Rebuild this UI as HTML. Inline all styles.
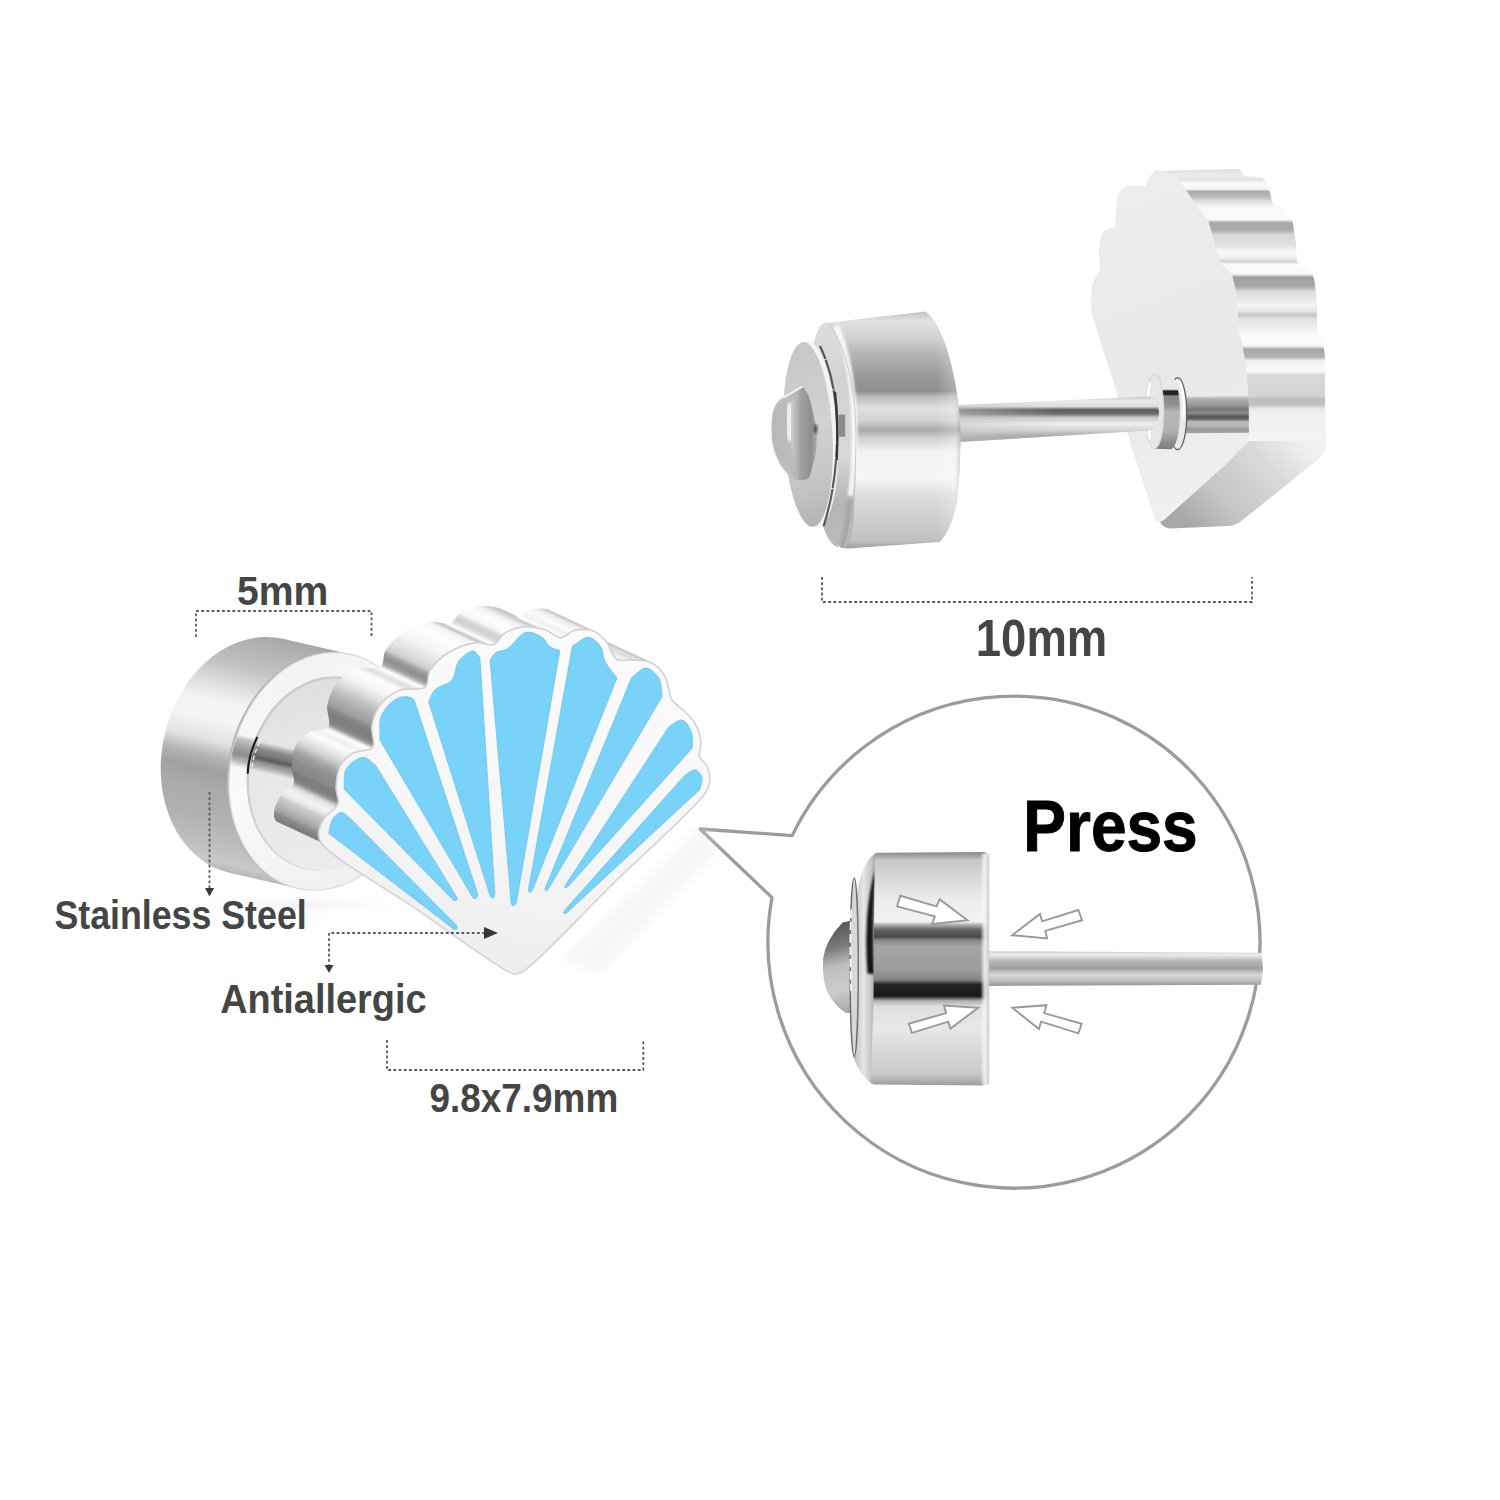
<!DOCTYPE html>
<html><head><meta charset="utf-8"><title>Shell earring</title>
<style>
html,body{margin:0;padding:0;background:#fff;}
body{width:1500px;height:1500px;overflow:hidden;font-family:"Liberation Sans",sans-serif;}
svg{display:block;}
text{font-family:"Liberation Sans",sans-serif;}
</style></head><body>
<svg width="1500" height="1500" viewBox="0 0 1500 1500">
<rect width="1500" height="1500" fill="#ffffff"/>
<!-- callout bubble -->
<path d="M792.2,835.6 L700,829 L772,897.6 A246,246 0 1 0 792.2,835.6 Z" transform="" fill="#ffffff" stroke="#9c9c9c" stroke-width="3.3" stroke-linejoin="round"/>
<text x="1023.3" y="850.6" font-size="72.5" font-weight="bold" fill="#000" stroke="#000" stroke-width="1" textLength="174.4" lengthAdjust="spacingAndGlyphs">Press</text>

<!-- callout cylinder: zoom coords origin (800,820) scale 1/4.6875 -->
<defs>
  <filter id="ccBl" x="-40%" y="-10%" width="180%" height="120%"><feGaussianBlur stdDeviation="5"/></filter>
  <linearGradient id="ccBody" x1="0" y1="155" x2="0" y2="1245" gradientUnits="userSpaceOnUse">
    <stop offset="0" stop-color="#8e8e8e"/>
    <stop offset="0.03" stop-color="#c6c6c6"/>
    <stop offset="0.10" stop-color="#d6d6d6"/>
    <stop offset="0.20" stop-color="#ececec"/>
    <stop offset="0.295" stop-color="#f2f2f2"/>
    <stop offset="0.31" stop-color="#a8a8a8"/>
    <stop offset="0.33" stop-color="#646464"/>
    <stop offset="0.36" stop-color="#484848"/>
    <stop offset="0.375" stop-color="#868686"/>
    <stop offset="0.40" stop-color="#a4a4a4"/>
    <stop offset="0.50" stop-color="#9c9c9c"/>
    <stop offset="0.545" stop-color="#848484"/>
    <stop offset="0.565" stop-color="#242424"/>
    <stop offset="0.615" stop-color="#181818"/>
    <stop offset="0.635" stop-color="#aeaeae"/>
    <stop offset="0.66" stop-color="#dedede"/>
    <stop offset="0.75" stop-color="#e8e8e8"/>
    <stop offset="0.85" stop-color="#d8d8d8"/>
    <stop offset="0.95" stop-color="#c8c8c8"/>
    <stop offset="1" stop-color="#9c9c9c"/>
  </linearGradient>
  <linearGradient id="ccBevel" x1="240" y1="0" x2="355" y2="0" gradientUnits="userSpaceOnUse">
    <stop offset="0" stop-color="#9a9a9a"/>
    <stop offset="0.2" stop-color="#c8c8c8"/>
    <stop offset="0.5" stop-color="#e6e6e6"/>
    <stop offset="0.8" stop-color="#c6c6c6"/>
    <stop offset="1" stop-color="#a2a2a2"/>
  </linearGradient>
  <linearGradient id="ccDome" x1="120" y1="470" x2="230" y2="900" gradientUnits="userSpaceOnUse">
    <stop offset="0" stop-color="#4e4e4e"/>
    <stop offset="0.3" stop-color="#7a7a7a"/>
    <stop offset="0.5" stop-color="#bebebe"/>
    <stop offset="0.75" stop-color="#cccccc"/>
    <stop offset="1" stop-color="#a8a8a8"/>
  </linearGradient>
  <linearGradient id="ccRod" x1="0" y1="612" x2="0" y2="780" gradientUnits="userSpaceOnUse">
    <stop offset="0" stop-color="#c8c8c8"/>
    <stop offset="0.12" stop-color="#ededed"/>
    <stop offset="0.3" stop-color="#b4b4b4"/>
    <stop offset="0.5" stop-color="#a0a0a0"/>
    <stop offset="0.68" stop-color="#d8d8d8"/>
    <stop offset="0.85" stop-color="#bdbdbd"/>
    <stop offset="1" stop-color="#8f8f8f"/>
  </linearGradient>
  <linearGradient id="ccRim" x1="845" y1="0" x2="888" y2="0" gradientUnits="userSpaceOnUse">
    <stop offset="0" stop-color="#ffffff" stop-opacity="0"/>
    <stop offset="0.5" stop-color="#f4f4f4" stop-opacity="0.9"/>
    <stop offset="1" stop-color="#c9c9c9" stop-opacity="1"/>
  </linearGradient>
</defs>
<g transform="translate(800,820) scale(0.213333)">
  <!-- rod -->
  <path d="M870,615 L2160,622 Q2180,700 2160,772 L870,778 Z" fill="url(#ccRod)"/>
  <!-- dome -->
  <path d="M250,470 L200,480 Q120,560 108,650 Q104,740 125,800 Q160,870 215,905 L250,905 Z" fill="url(#ccDome)"/>
  <!-- bevel -->
  <path d="M355,155 Q300,190 275,300 Q240,500 240,700 Q238,950 250,1110 Q280,1200 335,1235 L360,1240 L360,155 Z" fill="url(#ccBevel)"/>
  <path d="M353,232 Q296,420 316,720 L347,722 Q334,450 356,232 Z" fill="#181818" filter="url(#ccBl)"/>
  <ellipse cx="254" cy="690" rx="19" ry="418" fill="#d8d8d8" stroke="#6a6a6a" stroke-width="6"/>
  <path d="M240,420 Q232,600 240,800" fill="none" stroke="#ffffff" stroke-width="8" stroke-dasharray="40 18"/>
  <!-- body -->
  <path d="M350,160 Q352,153 370,153 L860,150 Q878,152 884,175 L886,1215 Q880,1240 850,1245 L345,1240 Q330,1238 332,1225 L345,830 Z" fill="url(#ccBody)"/>
  <rect x="845" y="158" width="42" height="1082" fill="url(#ccRim)"/>
  <!-- arrows -->
  <g fill="#ffffff" stroke="#9a9a9a" stroke-width="9" stroke-linejoin="miter">
    <path d="M470,355 L640,405 L655,372 L785,470 L620,487 L632,452 L455,405 Z"/>
    <path d="M1305,422 L1322,470 L1150,520 L1158,555 L995,540 L1125,440 L1135,475 Z"/>
    <path d="M510,955 L685,905 L675,870 L835,880 L705,978 L695,945 L525,998 Z"/>
    <path d="M995,880 L1155,868 L1145,905 L1320,955 L1305,1000 L1130,945 L1120,980 Z"/>
  </g>
</g>

<!-- top-right earring -->
<defs>
  <filter id="bl8" x="-30%" y="-30%" width="160%" height="160%"><feGaussianBlur stdDeviation="8"/></filter>
  <filter id="bl4" x="-30%" y="-30%" width="160%" height="160%"><feGaussianBlur stdDeviation="4"/></filter>
  <linearGradient id="trSide" x1="0" y1="95" x2="0" y2="1460" gradientUnits="userSpaceOnUse">
    <stop offset="0.000" stop-color="#dcdcdc"/>
    <stop offset="0.020" stop-color="#ececec"/>
    <stop offset="0.040" stop-color="#e2e2e2"/>
    <stop offset="0.052" stop-color="#fafafa"/>
    <stop offset="0.074" stop-color="#f6f6f6"/>
    <stop offset="0.082" stop-color="#aaaaaa"/>
    <stop offset="0.100" stop-color="#b8b8b8"/>
    <stop offset="0.118" stop-color="#dedede"/>
    <stop offset="0.140" stop-color="#f8f8f8"/>
    <stop offset="0.185" stop-color="#fbfbfb"/>
    <stop offset="0.197" stop-color="#a6a6a6"/>
    <stop offset="0.225" stop-color="#acacac"/>
    <stop offset="0.240" stop-color="#d6d6d6"/>
    <stop offset="0.280" stop-color="#e2e2e2"/>
    <stop offset="0.300" stop-color="#f6f6f6"/>
    <stop offset="0.325" stop-color="#f2f2f2"/>
    <stop offset="0.338" stop-color="#d0d0d0"/>
    <stop offset="0.350" stop-color="#fafafa"/>
    <stop offset="0.385" stop-color="#f8f8f8"/>
    <stop offset="0.396" stop-color="#9e9e9e"/>
    <stop offset="0.430" stop-color="#a8a8a8"/>
    <stop offset="0.448" stop-color="#dadada"/>
    <stop offset="0.500" stop-color="#f4f4f4"/>
    <stop offset="0.520" stop-color="#e6e6e6"/>
    <stop offset="0.535" stop-color="#c6c6c6"/>
    <stop offset="0.550" stop-color="#e4e4e4"/>
    <stop offset="0.595" stop-color="#f2f2f2"/>
    <stop offset="0.610" stop-color="#fbfbfb"/>
    <stop offset="0.648" stop-color="#f8f8f8"/>
    <stop offset="0.660" stop-color="#a8a8a8"/>
    <stop offset="0.688" stop-color="#b0b0b0"/>
    <stop offset="0.703" stop-color="#f2f2f2"/>
    <stop offset="0.742" stop-color="#fafafa"/>
    <stop offset="0.755" stop-color="#d8d8d8"/>
    <stop offset="0.830" stop-color="#d2d2d2"/>
    <stop offset="0.845" stop-color="#bcbcbc"/>
    <stop offset="0.865" stop-color="#c4c4c4"/>
    <stop offset="0.880" stop-color="#eeeeee"/>
    <stop offset="1.000" stop-color="#f4f4f4"/>
  </linearGradient>
  <linearGradient id="trBottom" x1="1300" y1="1440" x2="760" y2="1900" gradientUnits="userSpaceOnUse">
    <stop offset="0" stop-color="#f0f0f0"/>
    <stop offset="0.3" stop-color="#d9d9d9"/>
    <stop offset="0.7" stop-color="#c4c4c4"/>
    <stop offset="1" stop-color="#a8a8a8"/>
  </linearGradient>
  <linearGradient id="trFace" x1="300" y1="200" x2="900" y2="1800" gradientUnits="userSpaceOnUse">
    <stop offset="0" stop-color="#ededed"/>
    <stop offset="0.6" stop-color="#e9e9e9"/>
    <stop offset="1" stop-color="#f1f1f1"/>
  </linearGradient>
  <linearGradient id="trRefl" x1="0" y1="1230" x2="0" y2="1416" gradientUnits="userSpaceOnUse">
    <stop offset="0" stop-color="#dcdcdc"/>
    <stop offset="0.08" stop-color="#b0b0b0"/>
    <stop offset="0.22" stop-color="#9c9c9c"/>
    <stop offset="0.36" stop-color="#787878"/>
    <stop offset="0.46" stop-color="#8a8a8a"/>
    <stop offset="0.54" stop-color="#5a5a5a"/>
    <stop offset="0.62" stop-color="#606060"/>
    <stop offset="0.68" stop-color="#b4b4b4"/>
    <stop offset="0.8" stop-color="#b8b8b8"/>
    <stop offset="0.9" stop-color="#969696"/>
    <stop offset="1" stop-color="#a6a6a6"/>
  </linearGradient>
  <linearGradient id="trRod" x1="0" y1="0" x2="0" y2="1">
    <stop offset="0" stop-color="#c4c4c4"/>
    <stop offset="0.10" stop-color="#ececec"/>
    <stop offset="0.22" stop-color="#dcdcdc"/>
    <stop offset="0.29" stop-color="#5a5a5a"/>
    <stop offset="0.38" stop-color="#6e6e6e"/>
    <stop offset="0.46" stop-color="#c6c6c6"/>
    <stop offset="0.60" stop-color="#eeeeee"/>
    <stop offset="0.74" stop-color="#d4d4d4"/>
    <stop offset="0.86" stop-color="#a8a8a8"/>
    <stop offset="1" stop-color="#8e8e8e"/>
  </linearGradient>
  <linearGradient id="trRodFade" x1="990" y1="0" x2="1500" y2="0" gradientUnits="userSpaceOnUse">
    <stop offset="0" stop-color="#c8c8c8" stop-opacity="0.55"/>
    <stop offset="1" stop-color="#c8c8c8" stop-opacity="0"/>
  </linearGradient>
  <linearGradient id="trCollar" x1="0" y1="1120" x2="0" y2="1500" gradientUnits="userSpaceOnUse">
    <stop offset="0" stop-color="#e6e6e6"/>
    <stop offset="0.2" stop-color="#e9e9e9"/>
    <stop offset="0.225" stop-color="#1e1e1e"/>
    <stop offset="0.27" stop-color="#2a2a2a"/>
    <stop offset="0.29" stop-color="#8a8a8a"/>
    <stop offset="0.4" stop-color="#8e8e8e"/>
    <stop offset="0.5" stop-color="#b8b8b8"/>
    <stop offset="0.75" stop-color="#b2b2b2"/>
    <stop offset="0.9" stop-color="#8c8c8c"/>
    <stop offset="1" stop-color="#7a7a7a"/>
  </linearGradient>
  <!-- cylinder gradients (A coords) -->
  <linearGradient id="trCyl" x1="0" y1="160" x2="0" y2="1340" gradientUnits="userSpaceOnUse">
    <stop offset="0" stop-color="#c4c4c4"/>
    <stop offset="0.04" stop-color="#e2e2e2"/>
    <stop offset="0.10" stop-color="#d4d4d4"/>
    <stop offset="0.18" stop-color="#b4b4b4"/>
    <stop offset="0.27" stop-color="#9a9a9a"/>
    <stop offset="0.335" stop-color="#8e8e8e"/>
    <stop offset="0.36" stop-color="#bcbcbc"/>
    <stop offset="0.41" stop-color="#e0e0e0"/>
    <stop offset="0.46" stop-color="#d2d2d2"/>
    <stop offset="0.50" stop-color="#a8a8a8"/>
    <stop offset="0.535" stop-color="#d0d0d0"/>
    <stop offset="0.59" stop-color="#f2f2f2"/>
    <stop offset="0.71" stop-color="#f4f4f4"/>
    <stop offset="0.79" stop-color="#dadada"/>
    <stop offset="0.89" stop-color="#cccccc"/>
    <stop offset="0.97" stop-color="#c0c0c0"/>
    <stop offset="1" stop-color="#a0a0a0"/>
  </linearGradient>
  <linearGradient id="trCylEdge" x1="880" y1="0" x2="1010" y2="0" gradientUnits="userSpaceOnUse">
    <stop offset="0" stop-color="#ffffff" stop-opacity="0"/>
    <stop offset="0.7" stop-color="#ffffff" stop-opacity="0.25"/>
    <stop offset="1" stop-color="#9a9a9a" stop-opacity="0.55"/>
  </linearGradient>
  <linearGradient id="trBevel" x1="250" y1="250" x2="480" y2="1300" gradientUnits="userSpaceOnUse">
    <stop offset="0" stop-color="#dcdcdc"/>
    <stop offset="0.3" stop-color="#d2d2d2"/>
    <stop offset="0.6" stop-color="#d8d8d8"/>
    <stop offset="0.82" stop-color="#b4b4b4"/>
    <stop offset="1" stop-color="#bcbcbc"/>
  </linearGradient>
  <linearGradient id="trDisc" x1="130" y1="320" x2="360" y2="1220" gradientUnits="userSpaceOnUse">
    <stop offset="0" stop-color="#c6c6c6"/>
    <stop offset="0.45" stop-color="#d2d2d2"/>
    <stop offset="0.8" stop-color="#c2c2c2"/>
    <stop offset="1" stop-color="#b2b2b2"/>
  </linearGradient>
  <linearGradient id="trDome" x1="60" y1="0" x2="290" y2="0" gradientUnits="userSpaceOnUse">
    <stop offset="0" stop-color="#bcbcbc"/>
    <stop offset="0.4" stop-color="#d2d2d2"/>
    <stop offset="0.62" stop-color="#a2a2a2"/>
    <stop offset="0.85" stop-color="#8e8e8e"/>
    <stop offset="1" stop-color="#b4b4b4"/>
  </linearGradient>
</defs>
<!-- shell (B coords) -->
<g transform="translate(1040,150) scale(0.2)">
  <!-- side -->
  <path d="M570,105 L1000,95 L1020,130 L1100,135 Q1130,150 1140,180 L1165,270 L1220,290 Q1255,320 1265,370 L1280,470 L1285,560 L1340,590 Q1370,620 1375,670 L1385,780 L1385,900 L1410,960 Q1425,1000 1425,1050 L1425,1280 L1430,1460 L1040,1470 L900,560 Z" fill="url(#trSide)"/>
  <!-- bottom slanted face -->
  <path d="M600,1860 L920,1580 L1040,1455 L1430,1455 Q1435,1510 1400,1540 L1000,1860 Q970,1880 940,1880 L650,1892 Q615,1890 600,1860 Z" fill="url(#trBottom)"/>
  <!-- back face -->
  <path d="M570,110 Q600,100 640,112 L700,150 L730,200 L790,290 L840,350 L870,450 L900,560 L960,620 L990,750 L990,900 L1010,960 L1030,1080 L1040,1200 L1045,1300 L1040,1460 L920,1580 L620,1850 Q590,1870 575,1845 L520,1680 L450,1460 L380,1200 L290,920 L260,820 Q245,740 265,660 L300,600 L295,530 Q295,460 305,430 Q315,400 340,395 L375,385 L380,300 Q385,230 400,210 Q415,185 440,180 L530,180 Q540,130 570,110 Z" fill="url(#trFace)"/>
  <!-- reflection band on face near rod -->
  <path d="M728,1232 L1044,1230 L1044,1414 L728,1416 Q712,1320 728,1232 Z" fill="url(#trRefl)"/>
</g>
<!-- collar (B coords) -->
<g transform="translate(1040,150) scale(0.2)">
  <ellipse cx="688" cy="1318" rx="46" ry="180" fill="#e9e9e9" stroke="#5a5a5a" stroke-width="6"/>
  <path d="M700,1160 Q726,1240 716,1330" fill="none" stroke="#ffffff" stroke-width="12" stroke-linecap="round"/>
  <path d="M573,1120 L652,1128 A48,184 0 0 1 652,1496 L573,1494 Z" fill="url(#trCollar)"/>
  <ellipse cx="573" cy="1307" rx="47" ry="187" fill="#e6e6e6" stroke="#cfcfcf" stroke-width="4"/>
  <path d="M548,1170 Q522,1300 548,1440" fill="none" stroke="#ffffff" stroke-width="14" stroke-linecap="round"/>
</g>
<!-- rod (A coords) -->
<g transform="translate(760,280) scale(0.2)">
  <path d="M990,625 L1950,583 Q1990,600 1996,665 Q1990,730 1950,753 L990,810 Z" fill="url(#trRod)"/>
  <path d="M990,625 L1500,603 L1500,780 L990,810 Z" fill="url(#trRodFade)"/>
</g>
<!-- cylinder (A coords) -->
<g transform="translate(760,280) scale(0.2)">
  <path d="M350,212 L826,158 Q880,190 930,330 Q985,500 1000,700 Q1010,900 985,1100 Q965,1240 900,1310 L440,1342 L400,1338 L350,1000 Z" fill="url(#trCyl)"/>
  <path d="M826,158 Q880,190 930,330 Q985,500 1000,700 Q1010,900 985,1100 Q965,1240 900,1310 L860,1312 L860,158 Z" fill="url(#trCylEdge)"/>
  <!-- outer bevel -->
  <ellipse cx="360" cy="772" rx="118" ry="562" transform="rotate(-3 360 772)" fill="url(#trBevel)"/>
  <path d="M380,230 Q470,420 474,780 Q472,960 452,1080" fill="none" stroke="#ffffff" stroke-opacity="0.8" stroke-width="30" filter="url(#bl4)"/>
  <path d="M456,1100 Q444,1250 412,1330" fill="none" stroke="#a4a4a4" stroke-opacity="0.85" stroke-width="40" filter="url(#bl8)"/>
  <path d="M345,214 Q478,420 480,780 Q478,1160 425,1338" fill="none" stroke="#c4c4c4" stroke-opacity="0.9" stroke-width="5"/>
  <!-- raised disc : rim (thickness) then face -->
  <ellipse cx="262" cy="772" rx="126" ry="466" transform="rotate(-3 262 772)" fill="#f3f3f3"/>
  <path d="M300,330 Q390,520 386,790 Q380,1040 318,1230" fill="none" stroke="#4a4a4a" stroke-width="11" stroke-dasharray="70 6 150 4 260 8" stroke-opacity="0.9"/>
  <path d="M375,560 Q392,700 384,900" fill="none" stroke="#2e2e2e" stroke-width="12" stroke-opacity="0.85"/>
  <rect x="392" y="672" width="34" height="112" fill="#8c8c8c" rx="6"/>
  <ellipse cx="240" cy="772" rx="122" ry="462" transform="rotate(-3 240 772)" fill="url(#trDisc)"/>
  <!-- dome (hex) -->
  <path d="M212,533 Q238,560 250,600 L283,740 Q288,800 276,880 L248,985 Q230,1005 190,1000 Q140,985 104,925 Q68,860 60,790 Q56,700 66,660 Q80,610 112,590 Z" fill="url(#trDome)"/>
  <path d="M212,533 L150,620 Q130,700 150,800 L190,1000 Q140,985 104,925 Q68,860 60,790 Q56,700 66,660 Q80,610 112,590 Z" fill="#b6b6b6" opacity="0.75" filter="url(#bl4)"/>
  <path d="M150,630 Q132,700 150,790" fill="none" stroke="#fafafa" stroke-width="34" stroke-linecap="round" opacity="0.8" filter="url(#bl8)"/>
  <path d="M212,533 L112,590" fill="none" stroke="#f4f4f4" stroke-width="10"/>
  <ellipse cx="278" cy="745" rx="10" ry="24" fill="#444" opacity="0.8" filter="url(#bl4)"/>
</g>

<!-- left earring barrel (D coords: origin (150,620) scale 1/5, rotated frame about ellipse centre) -->
<defs>
  <linearGradient id="lbSide" x1="0" y1="157" x2="0" y2="1357" gradientUnits="userSpaceOnUse">
    <stop offset="0" stop-color="#a8a8a8"/>
    <stop offset="0.047" stop-color="#b0b0b0"/>
    <stop offset="0.153" stop-color="#c2c2c2"/>
    <stop offset="0.234" stop-color="#dcdcdc"/>
    <stop offset="0.316" stop-color="#f4f4f4"/>
    <stop offset="0.397" stop-color="#f3f3f3"/>
    <stop offset="0.478" stop-color="#e2e2e2"/>
    <stop offset="0.543" stop-color="#b4b4b4"/>
    <stop offset="0.60" stop-color="#a0a0a0"/>
    <stop offset="0.68" stop-color="#aaaaaa"/>
    <stop offset="0.80" stop-color="#b2b2b2"/>
    <stop offset="0.884" stop-color="#bcbcbc"/>
    <stop offset="0.966" stop-color="#c8c8c8"/>
    <stop offset="1" stop-color="#b8b8b8"/>
  </linearGradient>
  <linearGradient id="lbRing" x1="400" y1="300" x2="1100" y2="1300" gradientUnits="userSpaceOnUse">
    <stop offset="0" stop-color="#f2f2f2"/>
    <stop offset="0.5" stop-color="#fafafa"/>
    <stop offset="1" stop-color="#f0f0f0"/>
  </linearGradient>
  <linearGradient id="lbDisc" x1="480" y1="300" x2="1000" y2="1250" gradientUnits="userSpaceOnUse">
    <stop offset="0" stop-color="#dcdcdc"/>
    <stop offset="0.4" stop-color="#e6e6e6"/>
    <stop offset="1" stop-color="#ececec"/>
  </linearGradient>
  <linearGradient id="lbPatch" x1="0" y1="682" x2="0" y2="832" gradientUnits="userSpaceOnUse">
    <stop offset="0" stop-color="#e4e4e4"/>
    <stop offset="0.10" stop-color="#b8b8b8"/>
    <stop offset="0.24" stop-color="#8c8c8c"/>
    <stop offset="0.40" stop-color="#7c7c7c"/>
    <stop offset="0.56" stop-color="#5c5c5c"/>
    <stop offset="0.68" stop-color="#8e8e8e"/>
    <stop offset="0.84" stop-color="#b2b2b2"/>
    <stop offset="1" stop-color="#e6e6e6"/>
  </linearGradient>
  <linearGradient id="lbPatchRing" x1="0" y1="672" x2="0" y2="832" gradientUnits="userSpaceOnUse">
    <stop offset="0" stop-color="#f4f4f4"/>
    <stop offset="0.12" stop-color="#c6c6c6"/>
    <stop offset="0.35" stop-color="#a4a4a4"/>
    <stop offset="0.6" stop-color="#8e8e8e"/>
    <stop offset="0.8" stop-color="#b4b4b4"/>
    <stop offset="1" stop-color="#f4f4f4"/>
  </linearGradient>
  <linearGradient id="lbPatchFade" x1="470" y1="0" x2="620" y2="0" gradientUnits="userSpaceOnUse">
    <stop offset="0" stop-color="#fff" stop-opacity="0.0"/>
    <stop offset="1" stop-color="#fff" stop-opacity="0"/>
  </linearGradient>
  <radialGradient id="lbShadow" cx="0.5" cy="0.5" r="0.5">
    <stop offset="0" stop-color="#dcdcdc" stop-opacity="0.4"/>
    <stop offset="1" stop-color="#ffffff" stop-opacity="0"/>
  </radialGradient>
</defs>
<ellipse cx="300" cy="905" rx="130" ry="14" fill="url(#lbShadow)"/>
<g transform="translate(150,620) scale(0.2) rotate(12.9 872 757)">
  <clipPath id="lbClipRing"><ellipse cx="872" cy="757" rx="470" ry="600"/></clipPath>
  <clipPath id="lbClipDisc"><ellipse cx="893" cy="768" rx="390" ry="484"/></clipPath>
  <ellipse cx="522" cy="757" rx="470" ry="600" fill="url(#lbSide)"/>
  <rect x="522" y="157" width="350" height="1200" fill="url(#lbSide)"/>
  <!-- darker chrome edge next to ring -->
  <ellipse cx="860" cy="757" rx="470" ry="600" fill="#b4b4b4"/>
  <!-- ring -->
  <ellipse cx="872" cy="757" rx="470" ry="600" fill="url(#lbRing)" stroke="#dcdcdc" stroke-width="6"/>
  <g clip-path="url(#lbClipRing)">
    <rect x="380" y="672" width="200" height="160" fill="url(#lbPatchRing)"/>
  </g>
  <!-- inner disc -->
  <ellipse cx="886" cy="764" rx="396" ry="490" fill="#cdcdcd"/>
  <ellipse cx="893" cy="768" rx="390" ry="484" fill="url(#lbDisc)"/>
  <g clip-path="url(#lbClipDisc)">
    <rect x="480" y="682" width="360" height="150" fill="url(#lbPatch)"/>
  </g>
  <path d="M506,668 Q484,765 500,850" fill="none" stroke="#1e1e1e" stroke-width="11" stroke-linecap="round"/>
  <path d="M522,690 Q506,765 516,830" fill="none" stroke="#f4f4f4" stroke-width="7" stroke-linecap="round" stroke-dasharray="14 22"/>
</g>

<path d="M560,960 L705,822 L720,850 L600,975 Z" fill="#e2e2e2" opacity="0.28" filter="url(#lsBlur)"/>
<!-- left earring: shell side quads -->
<g id="shellSide"><path d="M320.4,841.6 L319.8,840.5 L275.8,820.0 L276.4,821.1 Z" fill="#828282" stroke="#828282" stroke-width="0.8"/>
<path d="M319.8,840.5 L319.4,839.5 L275.4,819.0 L275.8,820.0 Z" fill="#808080" stroke="#808080" stroke-width="0.8"/>
<path d="M319.4,839.5 L319.0,838.5 L275.0,818.0 L275.4,819.0 Z" fill="#7e7e7e" stroke="#7e7e7e" stroke-width="0.8"/>
<path d="M319.0,838.5 L318.8,837.5 L274.8,817.0 L275.0,818.0 Z" fill="#7c7c7c" stroke="#7c7c7c" stroke-width="0.8"/>
<path d="M318.8,837.5 L318.6,836.5 L274.6,816.0 L274.8,817.0 Z" fill="#808080" stroke="#808080" stroke-width="0.8"/>
<path d="M318.6,836.5 L318.5,835.5 L274.5,815.0 L274.6,816.0 Z" fill="#848484" stroke="#848484" stroke-width="0.8"/>
<path d="M318.5,835.5 L318.5,834.5 L274.5,814.0 L274.5,815.0 Z" fill="#878787" stroke="#878787" stroke-width="0.8"/>
<path d="M318.5,834.5 L318.5,833.3 L274.5,812.8 L274.5,814.0 Z" fill="#898989" stroke="#898989" stroke-width="0.8"/>
<path d="M318.5,833.3 L318.7,831.8 L274.7,811.3 L274.5,812.8 Z" fill="#8d8d8d" stroke="#8d8d8d" stroke-width="0.8"/>
<path d="M318.7,831.8 L318.9,830.3 L274.9,809.8 L274.7,811.3 Z" fill="#989898" stroke="#989898" stroke-width="0.8"/>
<path d="M318.9,830.3 L319.3,828.7 L275.3,808.2 L274.9,809.8 Z" fill="#a1a1a1" stroke="#a1a1a1" stroke-width="0.8"/>
<path d="M319.3,828.7 L319.8,827.0 L275.8,806.5 L275.3,808.2 Z" fill="#a8a8a8" stroke="#a8a8a8" stroke-width="0.8"/>
<path d="M319.8,827.0 L320.5,825.3 L276.5,804.8 L275.8,806.5 Z" fill="#afafaf" stroke="#afafaf" stroke-width="0.8"/>
<path d="M320.5,825.3 L321.2,823.7 L277.2,803.2 L276.5,804.8 Z" fill="#b5b5b5" stroke="#b5b5b5" stroke-width="0.8"/>
<path d="M321.2,823.7 L322.0,822.0 L278.0,801.5 L277.2,803.2 Z" fill="#bababa" stroke="#bababa" stroke-width="0.8"/>
<path d="M322.0,822.0 L322.8,820.4 L278.8,799.9 L278.0,801.5 Z" fill="#c0c0c0" stroke="#c0c0c0" stroke-width="0.8"/>
<path d="M322.8,820.4 L323.7,818.8 L279.7,798.3 L278.8,799.9 Z" fill="#c5c5c5" stroke="#c5c5c5" stroke-width="0.8"/>
<path d="M323.7,818.8 L324.7,817.3 L280.7,796.8 L279.7,798.3 Z" fill="#cacaca" stroke="#cacaca" stroke-width="0.8"/>
<path d="M324.7,817.3 L325.8,815.9 L281.8,795.4 L280.7,796.8 Z" fill="#d6d6d6" stroke="#d6d6d6" stroke-width="0.8"/>
<path d="M325.8,815.9 L327.1,814.5 L283.1,794.0 L281.8,795.4 Z" fill="#e3e3e3" stroke="#e3e3e3" stroke-width="0.8"/>
<path d="M327.1,814.5 L328.7,813.2 L284.7,792.7 L283.1,794.0 Z" fill="#ebebeb" stroke="#ebebeb" stroke-width="0.8"/>
<path d="M328.7,813.2 L330.3,811.9 L286.3,791.4 L284.7,792.7 Z" fill="#f0f0f0" stroke="#f0f0f0" stroke-width="0.8"/>
<path d="M330.3,811.9 L331.9,810.7 L287.9,790.2 L286.3,791.4 Z" fill="#f2f2f2" stroke="#f2f2f2" stroke-width="0.8"/>
<path d="M331.9,810.7 L333.5,809.5 L289.5,789.0 L287.9,790.2 Z" fill="#f0f0f0" stroke="#f0f0f0" stroke-width="0.8"/>
<path d="M333.5,809.5 L335.0,808.2 L291.0,787.7 L289.5,789.0 Z" fill="#ebebeb" stroke="#ebebeb" stroke-width="0.8"/>
<path d="M335.0,808.2 L336.2,806.9 L292.2,786.4 L291.0,787.7 Z" fill="#e3e3e3" stroke="#e3e3e3" stroke-width="0.8"/>
<path d="M336.2,806.9 L337.3,805.5 L293.3,785.0 L292.2,786.4 Z" fill="#d5d5d5" stroke="#d5d5d5" stroke-width="0.8"/>
<path d="M337.3,805.5 L338.0,804.0 L294.0,783.5 L293.3,785.0 Z" fill="#bbbbbb" stroke="#bbbbbb" stroke-width="0.8"/>
<path d="M338.0,804.0 L338.3,802.6 L294.3,782.1 L294.0,783.5 Z" fill="#9f9f9f" stroke="#9f9f9f" stroke-width="0.8"/>
<path d="M338.3,802.6 L338.4,801.1 L294.4,780.6 L294.3,782.1 Z" fill="#8c8c8c" stroke="#8c8c8c" stroke-width="0.8"/>
<path d="M338.4,801.1 L338.3,799.5 L294.3,779.0 L294.4,780.6 Z" fill="#848484" stroke="#848484" stroke-width="0.8"/>
<path d="M338.3,799.5 L338.0,798.0 L294.0,777.5 L294.3,779.0 Z" fill="#7e7e7e" stroke="#7e7e7e" stroke-width="0.8"/>
<path d="M338.0,798.0 L337.6,796.4 L293.6,775.9 L294.0,777.5 Z" fill="#7c7c7c" stroke="#7c7c7c" stroke-width="0.8"/>
<path d="M337.6,796.4 L337.2,794.7 L293.2,774.2 L293.6,775.9 Z" fill="#7c7c7c" stroke="#7c7c7c" stroke-width="0.8"/>
<path d="M337.2,794.7 L336.8,793.1 L292.8,772.6 L293.2,774.2 Z" fill="#7c7c7c" stroke="#7c7c7c" stroke-width="0.8"/>
<path d="M336.8,793.1 L336.4,791.4 L292.4,770.9 L292.8,772.6 Z" fill="#7d7d7d" stroke="#7d7d7d" stroke-width="0.8"/>
<path d="M336.4,791.4 L336.2,789.7 L292.2,769.2 L292.4,770.9 Z" fill="#818181" stroke="#818181" stroke-width="0.8"/>
<path d="M336.2,789.7 L336.1,788.0 L292.1,767.5 L292.2,769.2 Z" fill="#878787" stroke="#878787" stroke-width="0.8"/>
<path d="M336.1,788.0 L336.2,786.0 L292.2,765.5 L292.1,767.5 Z" fill="#8a8a8a" stroke="#8a8a8a" stroke-width="0.8"/>
<path d="M336.2,786.0 L336.3,783.8 L292.3,763.3 L292.2,765.5 Z" fill="#8b8b8b" stroke="#8b8b8b" stroke-width="0.8"/>
<path d="M336.3,783.8 L336.5,781.6 L292.5,761.1 L292.3,763.3 Z" fill="#8c8c8c" stroke="#8c8c8c" stroke-width="0.8"/>
<path d="M336.5,781.6 L336.7,779.3 L292.7,758.8 L292.5,761.1 Z" fill="#8e8e8e" stroke="#8e8e8e" stroke-width="0.8"/>
<path d="M336.7,779.3 L336.9,777.1 L292.9,756.6 L292.7,758.8 Z" fill="#929292" stroke="#929292" stroke-width="0.8"/>
<path d="M336.9,777.1 L337.3,774.8 L293.3,754.3 L292.9,756.6 Z" fill="#979797" stroke="#979797" stroke-width="0.8"/>
<path d="M337.3,774.8 L337.8,772.6 L293.8,752.1 L293.3,754.3 Z" fill="#9c9c9c" stroke="#9c9c9c" stroke-width="0.8"/>
<path d="M337.8,772.6 L338.3,770.5 L294.3,750.0 L293.8,752.1 Z" fill="#a3a3a3" stroke="#a3a3a3" stroke-width="0.8"/>
<path d="M338.3,770.5 L339.0,768.5 L295.0,748.0 L294.3,750.0 Z" fill="#acacac" stroke="#acacac" stroke-width="0.8"/>
<path d="M339.0,768.5 L339.9,766.7 L295.9,746.2 L295.0,748.0 Z" fill="#b7b7b7" stroke="#b7b7b7" stroke-width="0.8"/>
<path d="M339.9,766.7 L340.8,765.1 L296.8,744.6 L295.9,746.2 Z" fill="#c2c2c2" stroke="#c2c2c2" stroke-width="0.8"/>
<path d="M340.8,765.1 L341.8,763.5 L297.8,743.0 L296.8,744.6 Z" fill="#cbcbcb" stroke="#cbcbcb" stroke-width="0.8"/>
<path d="M341.8,763.5 L342.9,762.0 L298.9,741.5 L297.8,743.0 Z" fill="#d4d4d4" stroke="#d4d4d4" stroke-width="0.8"/>
<path d="M342.9,762.0 L344.1,760.5 L300.1,740.0 L298.9,741.5 Z" fill="#dadada" stroke="#dadada" stroke-width="0.8"/>
<path d="M344.1,760.5 L345.3,759.1 L301.3,738.6 L300.1,740.0 Z" fill="#e0e0e0" stroke="#e0e0e0" stroke-width="0.8"/>
<path d="M345.3,759.1 L346.7,757.8 L302.7,737.3 L301.3,738.6 Z" fill="#e5e5e5" stroke="#e5e5e5" stroke-width="0.8"/>
<path d="M346.7,757.8 L348.1,756.6 L304.1,736.1 L302.7,737.3 Z" fill="#eaeaea" stroke="#eaeaea" stroke-width="0.8"/>
<path d="M348.1,756.6 L349.6,755.4 L305.6,734.9 L304.1,736.1 Z" fill="#f0f0f0" stroke="#f0f0f0" stroke-width="0.8"/>
<path d="M349.6,755.4 L351.1,754.3 L307.1,733.8 L305.6,734.9 Z" fill="#f5f5f5" stroke="#f5f5f5" stroke-width="0.8"/>
<path d="M351.1,754.3 L352.7,753.3 L308.7,732.8 L307.1,733.8 Z" fill="#f7f7f7" stroke="#f7f7f7" stroke-width="0.8"/>
<path d="M352.7,753.3 L354.5,752.5 L310.5,732.0 L308.7,732.8 Z" fill="#fafafa" stroke="#fafafa" stroke-width="0.8"/>
<path d="M354.5,752.5 L356.6,751.9 L312.6,731.4 L310.5,732.0 Z" fill="#fbfbfb" stroke="#fbfbfb" stroke-width="0.8"/>
<path d="M356.6,751.9 L358.8,751.4 L314.8,730.9 L312.6,731.4 Z" fill="#f5f5f5" stroke="#f5f5f5" stroke-width="0.8"/>
<path d="M358.8,751.4 L361.2,751.1 L317.2,730.6 L314.8,730.9 Z" fill="#f2f2f2" stroke="#f2f2f2" stroke-width="0.8"/>
<path d="M361.2,751.1 L363.5,750.8 L319.5,730.3 L317.2,730.6 Z" fill="#f1f1f1" stroke="#f1f1f1" stroke-width="0.8"/>
<path d="M363.5,750.8 L365.8,750.5 L321.8,730.0 L319.5,730.3 Z" fill="#f2f2f2" stroke="#f2f2f2" stroke-width="0.8"/>
<path d="M365.8,750.5 L368.0,750.1 L324.0,729.6 L321.8,730.0 Z" fill="#f6f6f6" stroke="#f6f6f6" stroke-width="0.8"/>
<path d="M368.0,750.1 L369.9,749.5 L325.9,729.0 L324.0,729.6 Z" fill="#fcfcfc" stroke="#fcfcfc" stroke-width="0.8"/>
<path d="M369.9,749.5 L371.5,748.6 L327.5,728.1 L325.9,729.0 Z" fill="#f9f9f9" stroke="#f9f9f9" stroke-width="0.8"/>
<path d="M371.5,748.6 L372.7,747.5 L328.7,727.0 L327.5,728.1 Z" fill="#e5e5e5" stroke="#e5e5e5" stroke-width="0.8"/>
<path d="M372.7,747.5 L373.4,745.9 L329.4,725.4 L328.7,727.0 Z" fill="#bbbbbb" stroke="#bbbbbb" stroke-width="0.8"/>
<path d="M373.4,745.9 L373.7,744.1 L329.7,723.6 L329.4,725.4 Z" fill="#989898" stroke="#989898" stroke-width="0.8"/>
<path d="M373.7,744.1 L373.7,742.0 L329.7,721.5 L329.7,723.6 Z" fill="#888888" stroke="#888888" stroke-width="0.8"/>
<path d="M373.7,742.0 L373.4,739.7 L329.4,719.2 L329.7,721.5 Z" fill="#828282" stroke="#828282" stroke-width="0.8"/>
<path d="M373.4,739.7 L373.0,737.4 L329.0,716.9 L329.4,719.2 Z" fill="#7e7e7e" stroke="#7e7e7e" stroke-width="0.8"/>
<path d="M373.0,737.4 L372.5,734.9 L328.5,714.4 L329.0,716.9 Z" fill="#7d7d7d" stroke="#7d7d7d" stroke-width="0.8"/>
<path d="M372.5,734.9 L372.1,732.4 L328.1,711.9 L328.5,714.4 Z" fill="#7e7e7e" stroke="#7e7e7e" stroke-width="0.8"/>
<path d="M372.1,732.4 L371.7,730.0 L327.7,709.5 L328.1,711.9 Z" fill="#818181" stroke="#818181" stroke-width="0.8"/>
<path d="M371.7,730.0 L371.6,727.6 L327.6,707.1 L327.7,709.5 Z" fill="#868686" stroke="#868686" stroke-width="0.8"/>
<path d="M371.6,727.6 L371.9,725.3 L327.9,704.8 L327.6,707.1 Z" fill="#8f8f8f" stroke="#8f8f8f" stroke-width="0.8"/>
<path d="M371.9,725.3 L372.4,723.0 L328.4,702.5 L327.9,704.8 Z" fill="#9c9c9c" stroke="#9c9c9c" stroke-width="0.8"/>
<path d="M372.4,723.0 L372.9,720.7 L328.9,700.2 L328.4,702.5 Z" fill="#a1a1a1" stroke="#a1a1a1" stroke-width="0.8"/>
<path d="M372.9,720.7 L373.6,718.3 L329.6,697.8 L328.9,700.2 Z" fill="#a6a6a6" stroke="#a6a6a6" stroke-width="0.8"/>
<path d="M373.6,718.3 L374.5,716.0 L330.5,695.5 L329.6,697.8 Z" fill="#ababab" stroke="#ababab" stroke-width="0.8"/>
<path d="M374.5,716.0 L375.4,713.7 L331.4,693.2 L330.5,695.5 Z" fill="#b1b1b1" stroke="#b1b1b1" stroke-width="0.8"/>
<path d="M375.4,713.7 L376.4,711.4 L332.4,690.9 L331.4,693.2 Z" fill="#b7b7b7" stroke="#b7b7b7" stroke-width="0.8"/>
<path d="M376.4,711.4 L377.5,709.2 L333.5,688.7 L332.4,690.9 Z" fill="#bebebe" stroke="#bebebe" stroke-width="0.8"/>
<path d="M377.5,709.2 L378.7,707.1 L334.7,686.6 L333.5,688.7 Z" fill="#c5c5c5" stroke="#c5c5c5" stroke-width="0.8"/>
<path d="M378.7,707.1 L380.1,705.1 L336.1,684.6 L334.7,686.6 Z" fill="#cdcdcd" stroke="#cdcdcd" stroke-width="0.8"/>
<path d="M380.1,705.1 L381.5,703.2 L337.5,682.7 L336.1,684.6 Z" fill="#d6d6d6" stroke="#d6d6d6" stroke-width="0.8"/>
<path d="M381.5,703.2 L383.0,701.5 L339.0,681.0 L337.5,682.7 Z" fill="#dddddd" stroke="#dddddd" stroke-width="0.8"/>
<path d="M383.0,701.5 L384.6,699.8 L340.6,679.3 L339.0,681.0 Z" fill="#e3e3e3" stroke="#e3e3e3" stroke-width="0.8"/>
<path d="M384.6,699.8 L386.4,698.2 L342.4,677.7 L340.6,679.3 Z" fill="#e9e9e9" stroke="#e9e9e9" stroke-width="0.8"/>
<path d="M386.4,698.2 L388.2,696.8 L344.2,676.3 L342.4,677.7 Z" fill="#efefef" stroke="#efefef" stroke-width="0.8"/>
<path d="M388.2,696.8 L390.2,695.3 L346.2,674.8 L344.2,676.3 Z" fill="#f4f4f4" stroke="#f4f4f4" stroke-width="0.8"/>
<path d="M390.2,695.3 L392.2,694.0 L348.2,673.5 L346.2,674.8 Z" fill="#f6f6f6" stroke="#f6f6f6" stroke-width="0.8"/>
<path d="M392.2,694.0 L394.3,692.8 L350.3,672.3 L348.2,673.5 Z" fill="#f8f8f8" stroke="#f8f8f8" stroke-width="0.8"/>
<path d="M394.3,692.8 L396.4,691.7 L352.4,671.2 L350.3,672.3 Z" fill="#f9f9f9" stroke="#f9f9f9" stroke-width="0.8"/>
<path d="M396.4,691.7 L398.5,690.7 L354.5,670.2 L352.4,671.2 Z" fill="#fbfbfb" stroke="#fbfbfb" stroke-width="0.8"/>
<path d="M398.5,690.7 L400.7,689.9 L356.7,669.4 L354.5,670.2 Z" fill="#fcfcfc" stroke="#fcfcfc" stroke-width="0.8"/>
<path d="M400.7,689.9 L403.0,689.2 L359.0,668.7 L356.7,669.4 Z" fill="#fafafa" stroke="#fafafa" stroke-width="0.8"/>
<path d="M403.0,689.2 L405.6,688.9 L361.6,668.4 L359.0,668.7 Z" fill="#f1f1f1" stroke="#f1f1f1" stroke-width="0.8"/>
<path d="M405.6,688.9 L408.3,688.8 L364.3,668.3 L361.6,668.4 Z" fill="#eaeaea" stroke="#eaeaea" stroke-width="0.8"/>
<path d="M408.3,688.8 L411.1,688.9 L367.1,668.4 L364.3,668.3 Z" fill="#e2e2e2" stroke="#e2e2e2" stroke-width="0.8"/>
<path d="M411.1,688.9 L413.9,689.0 L369.9,668.5 L367.1,668.4 Z" fill="#dfdfdf" stroke="#dfdfdf" stroke-width="0.8"/>
<path d="M413.9,689.0 L416.6,689.1 L372.6,668.6 L369.9,668.5 Z" fill="#e1e1e1" stroke="#e1e1e1" stroke-width="0.8"/>
<path d="M416.6,689.1 L419.2,689.0 L375.2,668.5 L372.6,668.6 Z" fill="#e9e9e9" stroke="#e9e9e9" stroke-width="0.8"/>
<path d="M419.2,689.0 L421.5,688.7 L377.5,668.2 L375.2,668.5 Z" fill="#f1f1f1" stroke="#f1f1f1" stroke-width="0.8"/>
<path d="M421.5,688.7 L423.6,688.2 L379.6,667.7 L377.5,668.2 Z" fill="#fafafa" stroke="#fafafa" stroke-width="0.8"/>
<path d="M423.6,688.2 L425.2,687.2 L381.2,666.7 L379.6,667.7 Z" fill="#f8f8f8" stroke="#f8f8f8" stroke-width="0.8"/>
<path d="M425.2,687.2 L426.2,686.1 L382.2,665.6 L381.2,666.7 Z" fill="#dedede" stroke="#dedede" stroke-width="0.8"/>
<path d="M426.2,686.1 L426.9,684.7 L382.9,664.2 L382.2,665.6 Z" fill="#bfbfbf" stroke="#bfbfbf" stroke-width="0.8"/>
<path d="M426.9,684.7 L427.4,683.1 L383.4,662.6 L382.9,664.2 Z" fill="#a7a7a7" stroke="#a7a7a7" stroke-width="0.8"/>
<path d="M427.4,683.1 L427.7,681.4 L383.7,660.9 L383.4,662.6 Z" fill="#999999" stroke="#999999" stroke-width="0.8"/>
<path d="M427.7,681.4 L427.9,679.6 L383.9,659.1 L383.7,660.9 Z" fill="#919191" stroke="#919191" stroke-width="0.8"/>
<path d="M427.9,679.6 L428.1,677.8 L384.1,657.3 L383.9,659.1 Z" fill="#8f8f8f" stroke="#8f8f8f" stroke-width="0.8"/>
<path d="M428.1,677.8 L428.3,675.9 L384.3,655.4 L384.1,657.3 Z" fill="#929292" stroke="#929292" stroke-width="0.8"/>
<path d="M428.3,675.9 L428.7,674.1 L384.7,653.6 L384.3,655.4 Z" fill="#9a9a9a" stroke="#9a9a9a" stroke-width="0.8"/>
<path d="M428.7,674.1 L429.2,672.3 L385.2,651.8 L384.7,653.6 Z" fill="#a7a7a7" stroke="#a7a7a7" stroke-width="0.8"/>
<path d="M429.2,672.3 L430.0,670.7 L386.0,650.2 L385.2,651.8 Z" fill="#bbbbbb" stroke="#bbbbbb" stroke-width="0.8"/>
<path d="M430.0,670.7 L431.3,668.7 L387.3,648.2 L386.0,650.2 Z" fill="#cccccc" stroke="#cccccc" stroke-width="0.8"/>
<path d="M431.3,668.7 L432.7,666.7 L388.7,646.2 L387.3,648.2 Z" fill="#d4d4d4" stroke="#d4d4d4" stroke-width="0.8"/>
<path d="M432.7,666.7 L434.4,664.8 L390.4,644.3 L388.7,646.2 Z" fill="#dadada" stroke="#dadada" stroke-width="0.8"/>
<path d="M434.4,664.8 L436.1,662.8 L392.1,642.3 L390.4,644.3 Z" fill="#dfdfdf" stroke="#dfdfdf" stroke-width="0.8"/>
<path d="M436.1,662.8 L438.0,660.9 L394.0,640.4 L392.1,642.3 Z" fill="#e3e3e3" stroke="#e3e3e3" stroke-width="0.8"/>
<path d="M438.0,660.9 L440.0,659.0 L396.0,638.5 L394.0,640.4 Z" fill="#e8e8e8" stroke="#e8e8e8" stroke-width="0.8"/>
<path d="M440.0,659.0 L442.1,657.3 L398.1,636.8 L396.0,638.5 Z" fill="#ececec" stroke="#ececec" stroke-width="0.8"/>
<path d="M442.1,657.3 L444.3,655.6 L400.3,635.1 L398.1,636.8 Z" fill="#f0f0f0" stroke="#f0f0f0" stroke-width="0.8"/>
<path d="M444.3,655.6 L446.5,654.0 L402.5,633.5 L400.3,635.1 Z" fill="#f4f4f4" stroke="#f4f4f4" stroke-width="0.8"/>
<path d="M446.5,654.0 L448.7,652.5 L404.7,632.0 L402.5,633.5 Z" fill="#f6f6f6" stroke="#f6f6f6" stroke-width="0.8"/>
<path d="M448.7,652.5 L451.1,651.1 L407.1,630.6 L404.7,632.0 Z" fill="#f8f8f8" stroke="#f8f8f8" stroke-width="0.8"/>
<path d="M451.1,651.1 L453.6,649.8 L409.6,629.3 L407.1,630.6 Z" fill="#f9f9f9" stroke="#f9f9f9" stroke-width="0.8"/>
<path d="M453.6,649.8 L456.3,648.6 L412.3,628.1 L409.6,629.3 Z" fill="#fafafa" stroke="#fafafa" stroke-width="0.8"/>
<path d="M456.3,648.6 L459.0,647.4 L415.0,626.9 L412.3,628.1 Z" fill="#fcfcfc" stroke="#fcfcfc" stroke-width="0.8"/>
<path d="M459.0,647.4 L461.8,646.3 L417.8,625.8 L415.0,626.9 Z" fill="#fdfdfd" stroke="#fdfdfd" stroke-width="0.8"/>
<path d="M461.8,646.3 L464.6,645.4 L420.6,624.9 L417.8,625.8 Z" fill="#fdfdfd" stroke="#fdfdfd" stroke-width="0.8"/>
<path d="M464.6,645.4 L467.4,644.6 L423.4,624.1 L420.6,624.9 Z" fill="#fbfbfb" stroke="#fbfbfb" stroke-width="0.8"/>
<path d="M467.4,644.6 L470.1,643.9 L426.1,623.4 L423.4,624.1 Z" fill="#f9f9f9" stroke="#f9f9f9" stroke-width="0.8"/>
<path d="M470.1,643.9 L472.8,643.3 L428.8,622.8 L426.1,623.4 Z" fill="#f6f6f6" stroke="#f6f6f6" stroke-width="0.8"/>
<path d="M472.8,643.3 L475.3,642.9 L431.3,622.4 L428.8,622.8 Z" fill="#f3f3f3" stroke="#f3f3f3" stroke-width="0.8"/>
<path d="M475.3,642.9 L477.3,642.8 L433.3,622.3 L431.3,622.4 Z" fill="#eeeeee" stroke="#eeeeee" stroke-width="0.8"/>
<path d="M477.3,642.8 L479.4,642.9 L435.4,622.4 L433.3,622.3 Z" fill="#dbdbdb" stroke="#dbdbdb" stroke-width="0.8"/>
<path d="M479.4,642.9 L481.4,643.3 L437.4,622.8 L435.4,622.4 Z" fill="#cecece" stroke="#cecece" stroke-width="0.8"/>
<path d="M481.4,643.3 L483.3,643.7 L439.3,623.2 L437.4,622.8 Z" fill="#c8c8c8" stroke="#c8c8c8" stroke-width="0.8"/>
<path d="M483.3,643.7 L485.3,644.1 L441.3,623.6 L439.3,623.2 Z" fill="#c9c9c9" stroke="#c9c9c9" stroke-width="0.8"/>
<path d="M485.3,644.1 L487.2,644.5 L443.2,624.0 L441.3,623.6 Z" fill="#c9c9c9" stroke="#c9c9c9" stroke-width="0.8"/>
<path d="M487.2,644.5 L489.0,644.9 L445.0,624.4 L443.2,624.0 Z" fill="#cacaca" stroke="#cacaca" stroke-width="0.8"/>
<path d="M489.0,644.9 L490.8,645.0 L446.8,624.5 L445.0,624.4 Z" fill="#d8d8d8" stroke="#d8d8d8" stroke-width="0.8"/>
<path d="M490.8,645.0 L492.4,644.9 L448.4,624.4 L446.8,624.5 Z" fill="#ededed" stroke="#ededed" stroke-width="0.8"/>
<path d="M492.4,644.9 L494.0,644.5 L450.0,624.0 L448.4,624.4 Z" fill="#f9f9f9" stroke="#f9f9f9" stroke-width="0.8"/>
<path d="M494.0,644.5 L495.3,643.9 L451.3,623.4 L450.0,624.0 Z" fill="#f9f9f9" stroke="#f9f9f9" stroke-width="0.8"/>
<path d="M495.3,643.9 L496.4,643.0 L452.4,622.5 L451.3,623.4 Z" fill="#f0f0f0" stroke="#f0f0f0" stroke-width="0.8"/>
<path d="M496.4,643.0 L497.5,641.9 L453.5,621.4 L452.4,622.5 Z" fill="#e1e1e1" stroke="#e1e1e1" stroke-width="0.8"/>
<path d="M497.5,641.9 L498.4,640.7 L454.4,620.2 L453.5,621.4 Z" fill="#d8d8d8" stroke="#d8d8d8" stroke-width="0.8"/>
<path d="M498.4,640.7 L499.4,639.4 L455.4,618.9 L454.4,620.2 Z" fill="#d2d2d2" stroke="#d2d2d2" stroke-width="0.8"/>
<path d="M499.4,639.4 L500.3,638.0 L456.3,617.5 L455.4,618.9 Z" fill="#d0d0d0" stroke="#d0d0d0" stroke-width="0.8"/>
<path d="M500.3,638.0 L501.3,636.7 L457.3,616.2 L456.3,617.5 Z" fill="#d3d3d3" stroke="#d3d3d3" stroke-width="0.8"/>
<path d="M501.3,636.7 L502.3,635.4 L458.3,614.9 L457.3,616.2 Z" fill="#d9d9d9" stroke="#d9d9d9" stroke-width="0.8"/>
<path d="M502.3,635.4 L503.4,634.3 L459.4,613.8 L458.3,614.9 Z" fill="#e3e3e3" stroke="#e3e3e3" stroke-width="0.8"/>
<path d="M503.4,634.3 L504.7,633.3 L460.7,612.8 L459.4,613.8 Z" fill="#f1f1f1" stroke="#f1f1f1" stroke-width="0.8"/>
<path d="M504.7,633.3 L506.2,632.4 L462.2,611.9 L460.7,612.8 Z" fill="#f7f7f7" stroke="#f7f7f7" stroke-width="0.8"/>
<path d="M506.2,632.4 L507.9,631.5 L463.9,611.0 L462.2,611.9 Z" fill="#f9f9f9" stroke="#f9f9f9" stroke-width="0.8"/>
<path d="M507.9,631.5 L509.7,630.6 L465.7,610.1 L463.9,611.0 Z" fill="#fafafa" stroke="#fafafa" stroke-width="0.8"/>
<path d="M509.7,630.6 L511.5,629.9 L467.5,609.4 L465.7,610.1 Z" fill="#fcfcfc" stroke="#fcfcfc" stroke-width="0.8"/>
<path d="M511.5,629.9 L513.5,629.2 L469.5,608.7 L467.5,609.4 Z" fill="#fdfdfd" stroke="#fdfdfd" stroke-width="0.8"/>
<path d="M513.5,629.2 L515.4,628.5 L471.4,608.0 L469.5,608.7 Z" fill="#fcfcfc" stroke="#fcfcfc" stroke-width="0.8"/>
<path d="M515.4,628.5 L517.4,628.0 L473.4,607.5 L471.4,608.0 Z" fill="#fafafa" stroke="#fafafa" stroke-width="0.8"/>
<path d="M517.4,628.0 L519.4,627.5 L475.4,607.0 L473.4,607.5 Z" fill="#f7f7f7" stroke="#f7f7f7" stroke-width="0.8"/>
<path d="M519.4,627.5 L521.4,627.2 L477.4,606.7 L475.4,607.0 Z" fill="#f5f5f5" stroke="#f5f5f5" stroke-width="0.8"/>
<path d="M521.4,627.2 L523.3,626.9 L479.3,606.4 L477.4,606.7 Z" fill="#f2f2f2" stroke="#f2f2f2" stroke-width="0.8"/>
<path d="M523.3,626.9 L525.4,626.8 L481.4,606.3 L479.3,606.4 Z" fill="#efefef" stroke="#efefef" stroke-width="0.8"/>
<path d="M525.4,626.8 L527.5,626.8 L483.5,606.3 L481.4,606.3 Z" fill="#e8e8e8" stroke="#e8e8e8" stroke-width="0.8"/>
<path d="M527.5,626.8 L529.7,626.8 L485.7,606.3 L483.5,606.3 Z" fill="#e0e0e0" stroke="#e0e0e0" stroke-width="0.8"/>
<path d="M529.7,626.8 L531.9,627.0 L487.9,606.5 L485.7,606.3 Z" fill="#d9d9d9" stroke="#d9d9d9" stroke-width="0.8"/>
<path d="M531.9,627.0 L534.1,627.3 L490.1,606.8 L487.9,606.5 Z" fill="#d3d3d3" stroke="#d3d3d3" stroke-width="0.8"/>
<path d="M534.1,627.3 L536.3,627.6 L492.3,607.1 L490.1,606.8 Z" fill="#cdcdcd" stroke="#cdcdcd" stroke-width="0.8"/>
<path d="M536.3,627.6 L538.5,628.0 L494.5,607.5 L492.3,607.1 Z" fill="#c8c8c8" stroke="#c8c8c8" stroke-width="0.8"/>
<path d="M538.5,628.0 L540.6,628.5 L496.6,608.0 L494.5,607.5 Z" fill="#c9c9c9" stroke="#c9c9c9" stroke-width="0.8"/>
<path d="M540.6,628.5 L542.7,629.0 L498.7,608.5 L496.6,608.0 Z" fill="#cacaca" stroke="#cacaca" stroke-width="0.8"/>
<path d="M542.7,629.0 L544.7,629.6 L500.7,609.1 L498.7,608.5 Z" fill="#cbcbcb" stroke="#cbcbcb" stroke-width="0.8"/>
<path d="M557.6,637.0 L559.1,637.4 L515.1,616.9 L513.6,616.5 Z" fill="#cccccc" stroke="#cccccc" stroke-width="0.8"/>
<path d="M559.1,637.4 L560.7,637.6 L516.7,617.1 L515.1,616.9 Z" fill="#d4d4d4" stroke="#d4d4d4" stroke-width="0.8"/>
<path d="M560.7,637.6 L562.0,637.4 L518.0,616.9 L516.7,617.1 Z" fill="#f2f2f2" stroke="#f2f2f2" stroke-width="0.8"/>
<path d="M562.0,637.4 L563.4,637.0 L519.4,616.5 L518.0,616.9 Z" fill="#fdfdfd" stroke="#fdfdfd" stroke-width="0.8"/>
<path d="M563.4,637.0 L564.7,636.3 L520.7,615.8 L519.4,616.5 Z" fill="#f9f9f9" stroke="#f9f9f9" stroke-width="0.8"/>
<path d="M564.7,636.3 L565.9,635.5 L521.9,615.0 L520.7,615.8 Z" fill="#f7f7f7" stroke="#f7f7f7" stroke-width="0.8"/>
<path d="M565.9,635.5 L567.2,634.6 L523.2,614.1 L521.9,615.0 Z" fill="#f4f4f4" stroke="#f4f4f4" stroke-width="0.8"/>
<path d="M567.2,634.6 L568.5,633.6 L524.5,613.1 L523.2,614.1 Z" fill="#f3f3f3" stroke="#f3f3f3" stroke-width="0.8"/>
<path d="M568.5,633.6 L569.8,632.7 L525.8,612.2 L524.5,613.1 Z" fill="#f5f5f5" stroke="#f5f5f5" stroke-width="0.8"/>
<path d="M569.8,632.7 L571.1,631.9 L527.1,611.4 L525.8,612.2 Z" fill="#f7f7f7" stroke="#f7f7f7" stroke-width="0.8"/>
<path d="M571.1,631.9 L572.5,631.2 L528.5,610.7 L527.1,611.4 Z" fill="#fafafa" stroke="#fafafa" stroke-width="0.8"/>
<path d="M572.5,631.2 L574.0,630.7 L530.0,610.2 L528.5,610.7 Z" fill="#fdfdfd" stroke="#fdfdfd" stroke-width="0.8"/>
<path d="M574.0,630.7 L575.7,630.3 L531.7,609.8 L530.0,610.2 Z" fill="#f7f7f7" stroke="#f7f7f7" stroke-width="0.8"/>
<path d="M575.7,630.3 L577.6,630.0 L533.6,609.5 L531.7,609.8 Z" fill="#f4f4f4" stroke="#f4f4f4" stroke-width="0.8"/>
<path d="M577.6,630.0 L579.5,629.7 L535.5,609.2 L533.6,609.5 Z" fill="#f2f2f2" stroke="#f2f2f2" stroke-width="0.8"/>
<path d="M579.5,629.7 L581.4,629.5 L537.4,609.0 L535.5,609.2 Z" fill="#f0f0f0" stroke="#f0f0f0" stroke-width="0.8"/>
<path d="M581.4,629.5 L583.4,629.4 L539.4,608.9 L537.4,609.0 Z" fill="#ececec" stroke="#ececec" stroke-width="0.8"/>
<path d="M583.4,629.4 L585.4,629.5 L541.4,609.0 L539.4,608.9 Z" fill="#e5e5e5" stroke="#e5e5e5" stroke-width="0.8"/>
<path d="M585.4,629.5 L587.3,629.6 L543.3,609.1 L541.4,609.0 Z" fill="#dcdcdc" stroke="#dcdcdc" stroke-width="0.8"/>
<path d="M587.3,629.6 L589.2,629.8 L545.2,609.3 L543.3,609.1 Z" fill="#d2d2d2" stroke="#d2d2d2" stroke-width="0.8"/>
<path d="M589.2,629.8 L591.0,630.2 L547.0,609.7 L545.2,609.3 Z" fill="#c8c8c8" stroke="#c8c8c8" stroke-width="0.8"/>
<path d="M591.0,630.2 L592.7,630.7 L548.7,610.2 L547.0,609.7 Z" fill="#cbcbcb" stroke="#cbcbcb" stroke-width="0.8"/>
<path d="M618.0,660.1 L619.4,660.5 L575.4,640.0 L574.0,639.6 Z" fill="#cacaca" stroke="#cacaca" stroke-width="0.8"/>
<path d="M619.4,660.5 L621.0,660.6 L577.0,640.1 L575.4,640.0 Z" fill="#d5d5d5" stroke="#d5d5d5" stroke-width="0.8"/>
<path d="M621.0,660.6 L622.6,660.6 L578.6,640.1 L577.0,640.1 Z" fill="#e5e5e5" stroke="#e5e5e5" stroke-width="0.8"/>
<path d="M622.6,660.6 L624.2,660.5 L580.2,640.0 L578.6,640.1 Z" fill="#eeeeee" stroke="#eeeeee" stroke-width="0.8"/>
<path d="M624.2,660.5 L625.9,660.3 L581.9,639.8 L580.2,640.0 Z" fill="#f0f0f0" stroke="#f0f0f0" stroke-width="0.8"/>
<path d="M625.9,660.3 L627.6,660.2 L583.6,639.7 L581.9,639.8 Z" fill="#f1f1f1" stroke="#f1f1f1" stroke-width="0.8"/>
<path d="M627.6,660.2 L629.3,660.0 L585.3,639.5 L583.6,639.7 Z" fill="#efefef" stroke="#efefef" stroke-width="0.8"/>
<path d="M629.3,660.0 L631.0,659.9 L587.0,639.4 L585.3,639.5 Z" fill="#ebebeb" stroke="#ebebeb" stroke-width="0.8"/>
<path d="M631.0,659.9 L632.7,660.0 L588.7,639.5 L587.0,639.4 Z" fill="#dfdfdf" stroke="#dfdfdf" stroke-width="0.8"/>
<path d="M632.7,660.0 L634.5,660.1 L590.5,639.6 L588.7,639.5 Z" fill="#dadada" stroke="#dadada" stroke-width="0.8"/>
<path d="M634.5,660.1 L636.4,660.2 L592.4,639.7 L590.5,639.6 Z" fill="#dedede" stroke="#dedede" stroke-width="0.8"/>
<path d="M636.4,660.2 L638.3,660.3 L594.3,639.8 L592.4,639.7 Z" fill="#dfdfdf" stroke="#dfdfdf" stroke-width="0.8"/>
<path d="M638.3,660.3 L640.3,660.4 L596.3,639.9 L594.3,639.8 Z" fill="#dedede" stroke="#dedede" stroke-width="0.8"/>
<path d="M640.3,660.4 L642.2,660.5 L598.2,640.0 L596.3,639.9 Z" fill="#dbdbdb" stroke="#dbdbdb" stroke-width="0.8"/>
<path d="M642.2,660.5 L644.2,660.7 L600.2,640.2 L598.2,640.0 Z" fill="#d6d6d6" stroke="#d6d6d6" stroke-width="0.8"/>
<path d="M644.2,660.7 L646.1,661.0 L602.1,640.5 L600.2,640.2 Z" fill="#cecece" stroke="#cecece" stroke-width="0.8"/>
<path d="M646.1,661.0 L647.9,661.4 L603.9,640.9 L602.1,640.5 Z" fill="#c8c8c8" stroke="#c8c8c8" stroke-width="0.8"/>
<path d="M647.9,661.4 L649.7,662.0 L605.7,641.5 L603.9,640.9 Z" fill="#cccccc" stroke="#cccccc" stroke-width="0.8"/></g>
<!-- shell face -->
<defs><linearGradient id="lsFace" x1="560" y1="630" x2="480" y2="975" gradientUnits="userSpaceOnUse"><stop offset="0" stop-color="#fbfbfb"/><stop offset="0.6" stop-color="#f6f6f6"/><stop offset="1" stop-color="#ededed"/></linearGradient><filter id="lsBlur" x="-20%%" y="-20%%" width="140%%" height="140%%"><feGaussianBlur stdDeviation="5"/></filter></defs>
<path d="M515.3,974.1 C512.5,974.1 511.0,973.1 506.8,970.9 C492.4,963.5 447.1,930.2 416.7,909.3 C385.5,887.9 332.3,857.9 322.0,844.0 C318.8,839.7 318.4,837.2 318.5,833.3 C318.7,828.5 321.6,822.1 324.7,817.3 C327.9,812.3 336.2,809.1 338.0,804.0 C339.6,799.3 336.0,793.7 336.1,788.0 C336.3,781.4 336.9,772.6 339.9,766.7 C342.6,761.2 347.4,756.5 352.7,753.3 C358.2,750.0 369.4,752.0 372.7,747.5 C376.0,742.8 370.5,732.6 371.9,725.3 C373.3,717.8 376.6,709.1 381.5,703.2 C386.3,697.4 393.5,692.5 400.7,689.9 C408.0,687.1 420.4,691.2 425.2,687.2 C429.2,683.9 426.8,675.9 430.0,670.7 C433.9,664.2 441.3,657.1 448.7,652.5 C456.3,647.7 467.1,644.0 475.3,642.9 C482.0,642.1 489.0,646.4 494.0,644.5 C498.6,642.8 500.2,636.2 504.7,633.3 C509.7,630.1 516.8,627.6 523.3,626.9 C530.1,626.2 538.2,627.6 544.7,629.6 C550.6,631.4 555.6,637.6 560.7,637.6 C565.3,637.6 569.0,631.9 574.0,630.7 C579.6,629.3 587.2,628.8 592.7,630.7 C597.8,632.5 602.1,636.9 606.0,641.3 C610.3,646.3 611.7,656.5 616.7,659.5 C621.0,662.0 627.1,659.5 632.7,660.0 C638.7,660.5 646.0,660.0 651.3,662.7 C656.7,665.3 661.3,670.4 664.7,676.0 C668.6,682.5 668.3,694.0 672.1,700.0 C675.2,704.8 680.1,706.8 683.9,710.7 C687.8,714.8 692.5,718.8 695.3,724.0 C698.3,729.4 700.4,736.9 700.9,742.7 C701.3,747.4 698.3,752.0 699.3,756.0 C700.4,760.0 705.6,762.5 707.3,766.7 C709.2,771.3 710.1,777.9 709.5,782.7 C708.9,786.8 708.1,788.8 704.7,793.9 C693.6,810.1 644.2,853.1 614.0,882.7 C583.9,912.1 538.6,961.6 523.9,970.9 C519.9,973.4 518.2,974.1 515.3,974.1 Z" fill="url(#lsFace)" stroke="#d2d2d2" stroke-width="1.6"/>
<g fill="#79d3f8" stroke="#66bfe6" stroke-width="0.7"><path d="M328.7,833.3 C329.9,828.7 330.0,823.0 332.4,819.5 C334.5,816.3 338.4,812.6 341.5,812.5 C344.5,812.4 347.5,816.6 350.5,818.7 L456.2,924.9 Q458.8,930.4 453.9,929.2 Z"/>
<path d="M344.1,789.3 C344.8,782.5 343.1,774.1 346.3,768.8 C349.5,763.5 358.1,757.4 363.3,757.3 C367.7,757.3 371.5,762.7 375.6,765.3 L456.7,896.9 Q458.0,902.4 453.2,899.9 Z"/>
<path d="M379.9,740.0 C380.4,731.8 378.4,722.5 381.5,715.5 C384.5,708.5 392.1,700.3 398.0,697.9 C402.6,696.0 409.6,696.3 412.7,698.4 C415.2,700.1 415.3,704.4 416.7,707.5 L477.8,894.3 Q477.3,900.6 472.9,897.7 Z"/>
<path d="M428.7,702.1 C430.7,698.0 431.5,693.3 434.8,689.9 C438.7,685.7 447.9,685.0 451.9,680.3 C455.9,675.4 455.0,666.0 458.8,661.1 C462.3,656.5 469.4,650.6 473.2,650.9 C475.9,651.1 477.6,655.2 479.9,657.3 L494.9,894.2 Q493.5,900.4 490.4,896.8 Z"/>
<path d="M490.0,660.0 C492.0,657.5 493.5,654.4 496.1,652.5 C499.1,650.5 503.4,651.1 507.3,648.8 C513.1,645.5 519.6,633.6 526.0,632.3 C531.4,631.1 538.4,634.8 542.5,637.6 C545.9,639.9 547.0,644.5 550.0,646.7 C552.8,648.7 556.6,649.2 559.9,650.4 L516.4,902.5 Q513.7,908.2 511.3,903.9 Z"/>
<path d="M572.4,646.1 C577.8,643.2 583.8,636.9 588.7,637.3 C593.1,637.7 598.0,642.7 600.7,646.7 C603.4,650.6 602.6,656.3 604.9,661.1 C607.7,666.7 612.9,672.4 616.9,678.1 L532.4,890.1 Q529.0,894.8 528.4,889.9 Z"/>
<path d="M631.6,677.6 C636.4,674.4 641.4,667.8 646.0,668.0 C650.5,668.2 656.1,673.6 658.8,678.1 C661.7,682.9 661.1,690.2 662.3,696.3 L548.5,888.7 Q544.6,893.0 545.1,888.3 Z"/>
<path d="M668.9,726.7 C673.3,724.4 678.3,719.2 682.0,720.0 C685.7,720.8 689.6,727.0 691.3,731.5 C693.2,736.2 692.0,742.5 692.4,748.0 L568.5,886.1 Q563.8,889.9 565.1,885.7 Z"/>
<path d="M684.9,775.2 C688.4,773.4 692.4,769.3 695.3,769.9 C698.0,770.4 701.1,774.3 702.0,777.3 C703.0,780.7 700.6,785.5 699.9,789.6 L567.2,912.5 Q562.1,915.3 564.0,911.0 Z"/></g>
<!-- annotations -->
<g fill="none" stroke="#5a5a5a" stroke-width="1.8" stroke-dasharray="2.8 2.4">
  <path d="M196,637 V611 H371.5 V637"/>
  <path d="M822,577 V602 H1252 V577"/>
  <path d="M387,1040 V1070 H643.3 V1040"/>
  <path d="M209.5,792 V888"/>
  <path d="M485,933 H329 V966"/>
</g>
<g fill="#383838">
  <path d="M205,888 h9 l-4.5,8.5 z"/>
  <path d="M324.5,965 h9 l-4.5,8 z"/>
  <path d="M484,927 v12 l14,-6 z"/>
</g>
<g font-weight="bold" fill="#454545">
  <text x="237" y="604.8" font-size="41.5" textLength="91.4" lengthAdjust="spacingAndGlyphs">5mm</text>
  <text x="975.8" y="655.6" font-size="51" textLength="131.5" lengthAdjust="spacingAndGlyphs">10mm</text>
  <text x="54.4" y="929" font-size="41.5" textLength="252.3" lengthAdjust="spacingAndGlyphs">Stainless Steel</text>
  <text x="220.2" y="1012.6" font-size="41" textLength="206.4" lengthAdjust="spacingAndGlyphs">Antiallergic</text>
  <text x="429.5" y="1112.3" font-size="40.5" textLength="188.7" lengthAdjust="spacingAndGlyphs">9.8x7.9mm</text>
</g>

</svg>
</body></html>
